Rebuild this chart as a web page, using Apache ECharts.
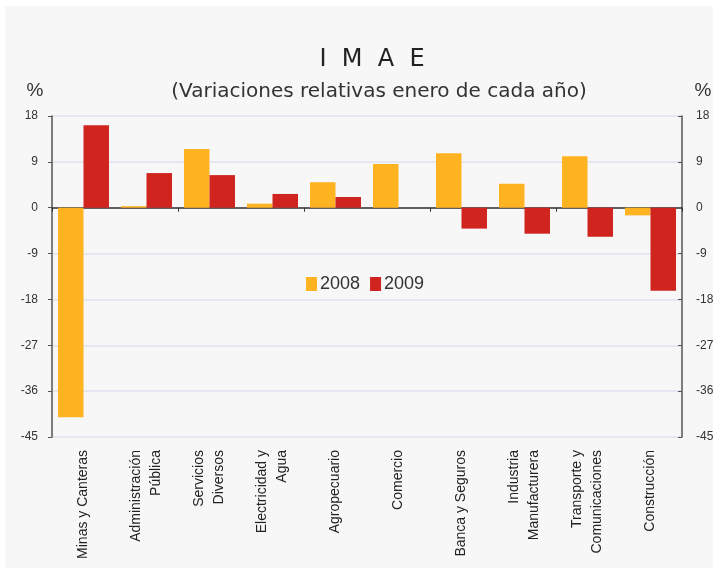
<!DOCTYPE html>
<html>
<head>
<meta charset="utf-8">
<script src="https://cdn.jsdelivr.net/npm/echarts@6/dist/echarts.min.js"></script>
<style>
  html, body { margin: 0; padding: 0; background: #fff; }
  #chart { width: 718px; height: 573px; }
</style>
</head>
<body>
<div id="chart"></div>
<script>
// categorías (eje X)
const categorias = [
    'Minas y Canteras',
    'Administración\nPública',
    'Servicios\nDiversos',
    'Electricidad y\nAgua',
    'Agropecuario',
    'Comercio',
    'Banca y Seguros',
    'Industria\nManufacturera',
    'Transporte y\nComunicaciones',
    'Construcción'
];

// variaciones relativas (%)
const valores2008 = [-41.1, 0.3, 11.5, 0.8, 5.0, 8.6, 10.7, 4.7, 10.1, -1.5];
const valores2009 = [16.2, 6.8, 6.4, 2.7, 2.1, 0, -4.1, -5.1, -5.7, -16.3];

const nombresSeries = ['2008', '2009'];

// ticks del eje Y
const ejeMin = -45;
const ejeMax = 18;
const ejeIntervalo = 9;

const chart = echarts.init(document.getElementById('chart'));

const etiquetaEje = {
    color: '#333',
    fontFamily: 'Liberation Sans',
    fontSize: 12
};

const option = {
    backgroundColor: '#fff',
    animation: false,
    graphic: [
        {
            type: 'rect',
            z: -10,
            shape: { x: 5, y: 6, width: 708, height: 562 },
            style: { fill: '#f7f7f8' }
        }
    ],
    title: [
        {
            text: 'I  M  A  E',
            left: 367,
            top: 43,
            textAlign: 'center',
            textStyle: {
                fontFamily: 'DejaVu Sans',
                fontWeight: 'normal',
                fontSize: 24,
                color: '#222'
            }
        },
        {
            text: '(Variaciones relativas enero de cada año)',
            left: 374,
            top: 77,
            textAlign: 'center',
            textStyle: {
                fontFamily: 'DejaVu Sans',
                fontWeight: 'normal',
                fontSize: 20,
                color: '#333'
            }
        },
        {
            text: '%',
            left: 30,
            top: 76,
            textAlign: 'center',
            textStyle: { fontFamily: 'Liberation Sans', fontWeight: 'normal', fontSize: 19, color: '#333' }
        },
        {
            text: '%',
            left: 698,
            top: 76,
            textAlign: 'center',
            textStyle: { fontFamily: 'Liberation Sans', fontWeight: 'normal', fontSize: 19, color: '#333' }
        }
    ],
    legend: {
        data: nombresSeries,
        left: 301,
        top: 270,
        itemWidth: 11,
        itemHeight: 14,
        itemGap: 10,
        icon: 'rect',
        textStyle: {
            fontFamily: 'Liberation Sans',
            fontSize: 18,
            color: '#333',
            padding: [0, 0, 0, -2]
        }
    },
    grid: {
        left: 52,
        right: 36,
        top: 116,
        bottom: 136
    },
    xAxis: [
        {
            type: 'category',
            data: categorias,
            axisLine: { onZero: true, lineStyle: { color: '#333', width: 1.5 } },
            axisTick: { show: true, length: 4, lineStyle: { color: '#333' } },
            axisLabel: { show: false },
            splitLine: { show: false }
        },
        {
            type: 'category',
            data: categorias,
            position: 'bottom',
            axisLine: { show: false, onZero: false },
            axisTick: { show: false },
            axisLabel: {
                rotate: 90,
                margin: 13,
                interval: 0,
                lineHeight: 20,
                color: '#222',
                fontFamily: 'Liberation Sans',
                fontSize: 14
            }
        }
    ],
    yAxis: [
        {
            type: 'value',
            min: ejeMin,
            max: ejeMax,
            interval: ejeIntervalo,
            axisLine: { show: true, lineStyle: { color: '#555', width: 1.5 } },
            axisTick: { show: true, length: 4, lineStyle: { color: '#555' } },
            axisLabel: Object.assign({ margin: 14 }, etiquetaEje),
            splitLine: { show: true, lineStyle: { color: '#e6e6f2', width: 2 } }
        },
        {
            type: 'value',
            min: ejeMin,
            max: ejeMax,
            interval: ejeIntervalo,
            position: 'right',
            axisLine: { show: true, lineStyle: { color: '#555', width: 1.5 } },
            axisTick: { show: true, inside: true, length: 4, lineStyle: { color: '#555' } },
            axisLabel: Object.assign({ margin: 14 }, etiquetaEje),
            splitLine: { show: false }
        }
    ],
    series: [
        {
            name: nombresSeries[0],
            type: 'bar',
            xAxisIndex: 0,
            yAxisIndex: 0,
            data: valores2008,
            barGap: '0%',
            barCategoryGap: '19%',
            itemStyle: { color: '#ffb321' }
        },
        {
            name: nombresSeries[1],
            type: 'bar',
            xAxisIndex: 0,
            yAxisIndex: 0,
            data: valores2009,
            barGap: '0%',
            barCategoryGap: '19%',
            itemStyle: { color: '#d0241f' }
        }
    ]
};

chart.setOption(option);
</script>
</body>
</html>
